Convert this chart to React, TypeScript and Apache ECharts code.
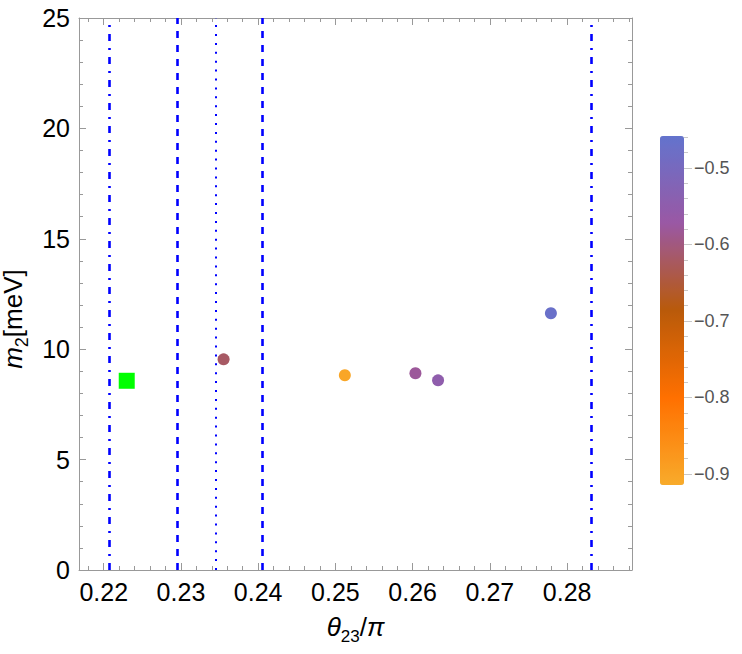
import React, { useEffect, useRef } from "react";
import * as echarts from "echarts";

// ---- data ----
const xMin = 0.2168;
const xMax = 0.2884;
const yMin = 0;
const yMax = 25;

const xMajorTicks = [0.22, 0.23, 0.24, 0.25, 0.26, 0.27, 0.28];
const xMinorTicks = [
  0.218, 0.22, 0.222, 0.224, 0.226, 0.228, 0.23, 0.232, 0.234, 0.236, 0.238, 0.24,
  0.242, 0.244, 0.246, 0.248, 0.25, 0.252, 0.254, 0.256, 0.258, 0.26, 0.262, 0.264,
  0.266, 0.268, 0.27, 0.272, 0.274, 0.276, 0.278, 0.28, 0.282, 0.284, 0.286, 0.288,
];
const yMajorTicks = [0, 5, 10, 15, 20, 25];
const yMinorTicks = [
  1, 2, 3, 4, 6, 7, 8, 9, 11, 12, 13, 14, 16, 17, 18, 19, 21, 22, 23, 24,
];

// colour bar
const cMin = -0.9144;
const cMax = -0.4582;
const cMajorTicks = [-0.9, -0.8, -0.7, -0.6, -0.5];
const cMinorTicks = [
  -0.9, -0.88, -0.86, -0.84, -0.82, -0.8, -0.78, -0.76, -0.74, -0.72, -0.7, -0.68,
  -0.66, -0.64, -0.62, -0.6, -0.58, -0.56, -0.54, -0.52, -0.5, -0.48, -0.46,
];
const cColors = ["#f8ab2b", "#ff7000", "#b95a0a", "#9a58a4", "#6373cd"];

// points: theta23/pi, m2 [meV], colour value
const pointTheta = [0.23552, 0.25122, 0.26036, 0.26329, 0.2779];
const pointM2 = [9.54, 8.82, 8.91, 8.59, 11.63];
const pointC = [-0.62, -0.905, -0.58, -0.55, -0.47];

// best fit (green square)
const bestTheta = [0.22298];
const bestM2 = [8.57];

// vertical bounds
const boundValues = [0.22066, 0.22952, 0.2345, 0.24057, 0.28317];
const boundStyles = ["dashdot", "dashed", "dotted", "dashed", "dashdot"];

const FONT = "'Liberation Sans', Arial, sans-serif";
const FRAME = "#999999";

function lineStyleFor(kind: string) {
  if (kind === "dashdot") return { color: "#0000ff", width: 2.6, type: [7, 7, 2, 7] };
  if (kind === "dashed") return { color: "#0000ff", width: 2.6, type: [7, 7] };
  return { color: "#0000ff", width: 2, type: [2, 6.9] };
}

export default function App() {
  const ref = useRef<HTMLDivElement>(null);
  useEffect(() => {
    if (!ref.current) return;
    const chart = echarts.init(ref.current, null, { renderer: "svg" });

    const hiddenLabel = { show: false };
    const baseX = {
      type: "value",
      gridIndex: 0,
      min: xMin,
      max: xMax,
      splitLine: { show: false },
    };
    const baseY = {
      type: "value",
      gridIndex: 0,
      min: yMin,
      max: yMax,
      splitLine: { show: false },
    };

    const option: any = {
      animation: false,
      backgroundColor: "#ffffff",
      grid: [
        { left: 79, top: 18, width: 553, height: 552, outerBoundsMode: "none" },
        { left: 660, top: 136, width: 24, height: 349, outerBoundsMode: "none" },
      ],
      xAxis: [
        {
          ...baseX,
          position: "bottom",
          axisLine: { show: true, onZero: false, lineStyle: { color: FRAME, width: 1 } },
          axisTick: { show: true, inside: true, length: 7, customValues: xMajorTicks, lineStyle: { color: FRAME } },
          axisLabel: {
            show: true,
            customValues: xMajorTicks,
            formatter: (v: number) => v.toFixed(2),
            fontFamily: FONT,
            fontSize: 25,
            color: "#000",
            margin: 9,
          },
          name: "{i|θ}{s|23}{n|/}{i|π}",
          nameLocation: "middle",
          nameGap: 40,
          nameTextStyle: {
            fontFamily: FONT,
            fontSize: 25,
            color: "#000",
            rich: {
              i: { fontFamily: FONT, fontSize: 26, fontStyle: "italic", color: "#000", lineHeight: 30, verticalAlign: "bottom" },
              n: { fontFamily: FONT, fontSize: 26, color: "#000", lineHeight: 30, verticalAlign: "bottom" },
              s: { fontFamily: FONT, fontSize: 17, color: "#000", lineHeight: 30, verticalAlign: "bottom", padding: [0, 0, -5, 0] },
            },
          },
        },
        {
          ...baseX,
          position: "bottom",
          axisLine: { show: false, onZero: false },
          axisTick: { show: true, inside: true, length: 4, customValues: xMinorTicks, lineStyle: { color: FRAME } },
          axisLabel: hiddenLabel,
        },
        {
          ...baseX,
          position: "top",
          axisLine: { show: true, onZero: false, lineStyle: { color: FRAME, width: 1 } },
          axisTick: { show: true, inside: true, length: 7, customValues: xMajorTicks, lineStyle: { color: FRAME } },
          axisLabel: hiddenLabel,
        },
        {
          ...baseX,
          position: "top",
          axisLine: { show: false, onZero: false },
          axisTick: { show: true, inside: true, length: 4, customValues: xMinorTicks, lineStyle: { color: FRAME } },
          axisLabel: hiddenLabel,
        },
        {
          type: "value",
          gridIndex: 1,
          min: 0,
          max: 1,
          show: false,
        },
      ],
      yAxis: [
        {
          ...baseY,
          position: "left",
          axisLine: { show: true, onZero: false, lineStyle: { color: FRAME, width: 1 } },
          axisTick: { show: true, inside: true, length: 7, customValues: yMajorTicks, lineStyle: { color: FRAME } },
          axisLabel: {
            show: true,
            customValues: yMajorTicks,
            fontFamily: FONT,
            fontSize: 25,
            color: "#000",
            margin: 9,
          },
          name: "{i|m}{s|2}{n|[meV]}",
          nameLocation: "middle",
          nameGap: 38,
          nameTextStyle: {
            fontFamily: FONT,
            fontSize: 26,
            color: "#000",
            padding: [0, 50, 0, 0],
            rich: {
              i: { fontFamily: FONT, fontSize: 26, fontStyle: "italic", color: "#000", lineHeight: 30, verticalAlign: "bottom" },
              n: { fontFamily: FONT, fontSize: 26, color: "#000", lineHeight: 30, verticalAlign: "bottom" },
              s: { fontFamily: FONT, fontSize: 18, color: "#000", lineHeight: 30, verticalAlign: "bottom", padding: [0, 0, -5, 0] },
            },
          },
        },
        {
          ...baseY,
          position: "left",
          axisLine: { show: false, onZero: false },
          axisTick: { show: true, inside: true, length: 4, customValues: yMinorTicks, lineStyle: { color: FRAME } },
          axisLabel: hiddenLabel,
        },
        {
          ...baseY,
          position: "right",
          axisLine: { show: true, onZero: false, lineStyle: { color: FRAME, width: 1 } },
          axisTick: { show: true, inside: true, length: 7, customValues: yMajorTicks, lineStyle: { color: FRAME } },
          axisLabel: hiddenLabel,
        },
        {
          ...baseY,
          position: "right",
          axisLine: { show: false, onZero: false },
          axisTick: { show: true, inside: true, length: 4, customValues: yMinorTicks, lineStyle: { color: FRAME } },
          axisLabel: hiddenLabel,
        },
        {
          type: "value",
          gridIndex: 1,
          min: cMin,
          max: cMax,
          position: "right",
          splitLine: { show: false },
          axisLine: { show: false, onZero: false },
          axisTick: { show: true, inside: false, length: 8, customValues: cMajorTicks, lineStyle: { color: "#c8c8c8" } },
          axisLabel: {
            show: true,
            customValues: cMajorTicks,
            formatter: (v: number) => v.toFixed(1).replace("-", "\u2212"),
            fontFamily: FONT,
            fontSize: 18,
            color: "#555555",
            margin: 10,
          },
        },
        {
          type: "value",
          gridIndex: 1,
          min: cMin,
          max: cMax,
          position: "right",
          splitLine: { show: false },
          axisLine: { show: false, onZero: false },
          axisTick: { show: true, inside: false, length: 4, customValues: cMinorTicks, lineStyle: { color: "#c8c8c8" } },
          axisLabel: { show: false },
        },
      ],
      visualMap: {
        type: "continuous",
        show: true,
        min: cMin,
        max: cMax,
        dimension: 2,
        seriesIndex: 0,
        calculable: false,
        hoverLink: false,
        inRange: { color: cColors },
        itemWidth: 24,
        itemHeight: 349,
        left: 660,
        top: 136,
        padding: 0,
        text: null,
      },
      series: [
        {
          type: "scatter",
          xAxisIndex: 0,
          yAxisIndex: 0,
          symbol: "circle",
          symbolSize: 12,
          itemStyle: { opacity: 1 },
          data: pointTheta.map((t, i) => [t, pointM2[i], pointC[i]]),
          silent: true,
        },
        {
          type: "scatter",
          xAxisIndex: 0,
          yAxisIndex: 0,
          symbol: "rect",
          symbolSize: 16,
          itemStyle: { color: "#00ff00", opacity: 1 },
          data: bestTheta.map((t, i) => [t, bestM2[i]]),
          silent: true,
          markLine: {
            silent: true,
            precision: 6,
            symbol: ["none", "none"],
            label: { show: false },
            emphasis: { disabled: true },
            data: boundValues.map((v, i) => ({ xAxis: v, lineStyle: lineStyleFor(boundStyles[i]) })),
          },
        },
      ],
    };

    chart.setOption(option);
    return () => chart.dispose();
  }, []);

  return (
    <div
      ref={ref}
      style={{ position: "fixed", left: 0, top: 0, width: 742, height: 654, background: "#fff" }}
    />
  );
}
